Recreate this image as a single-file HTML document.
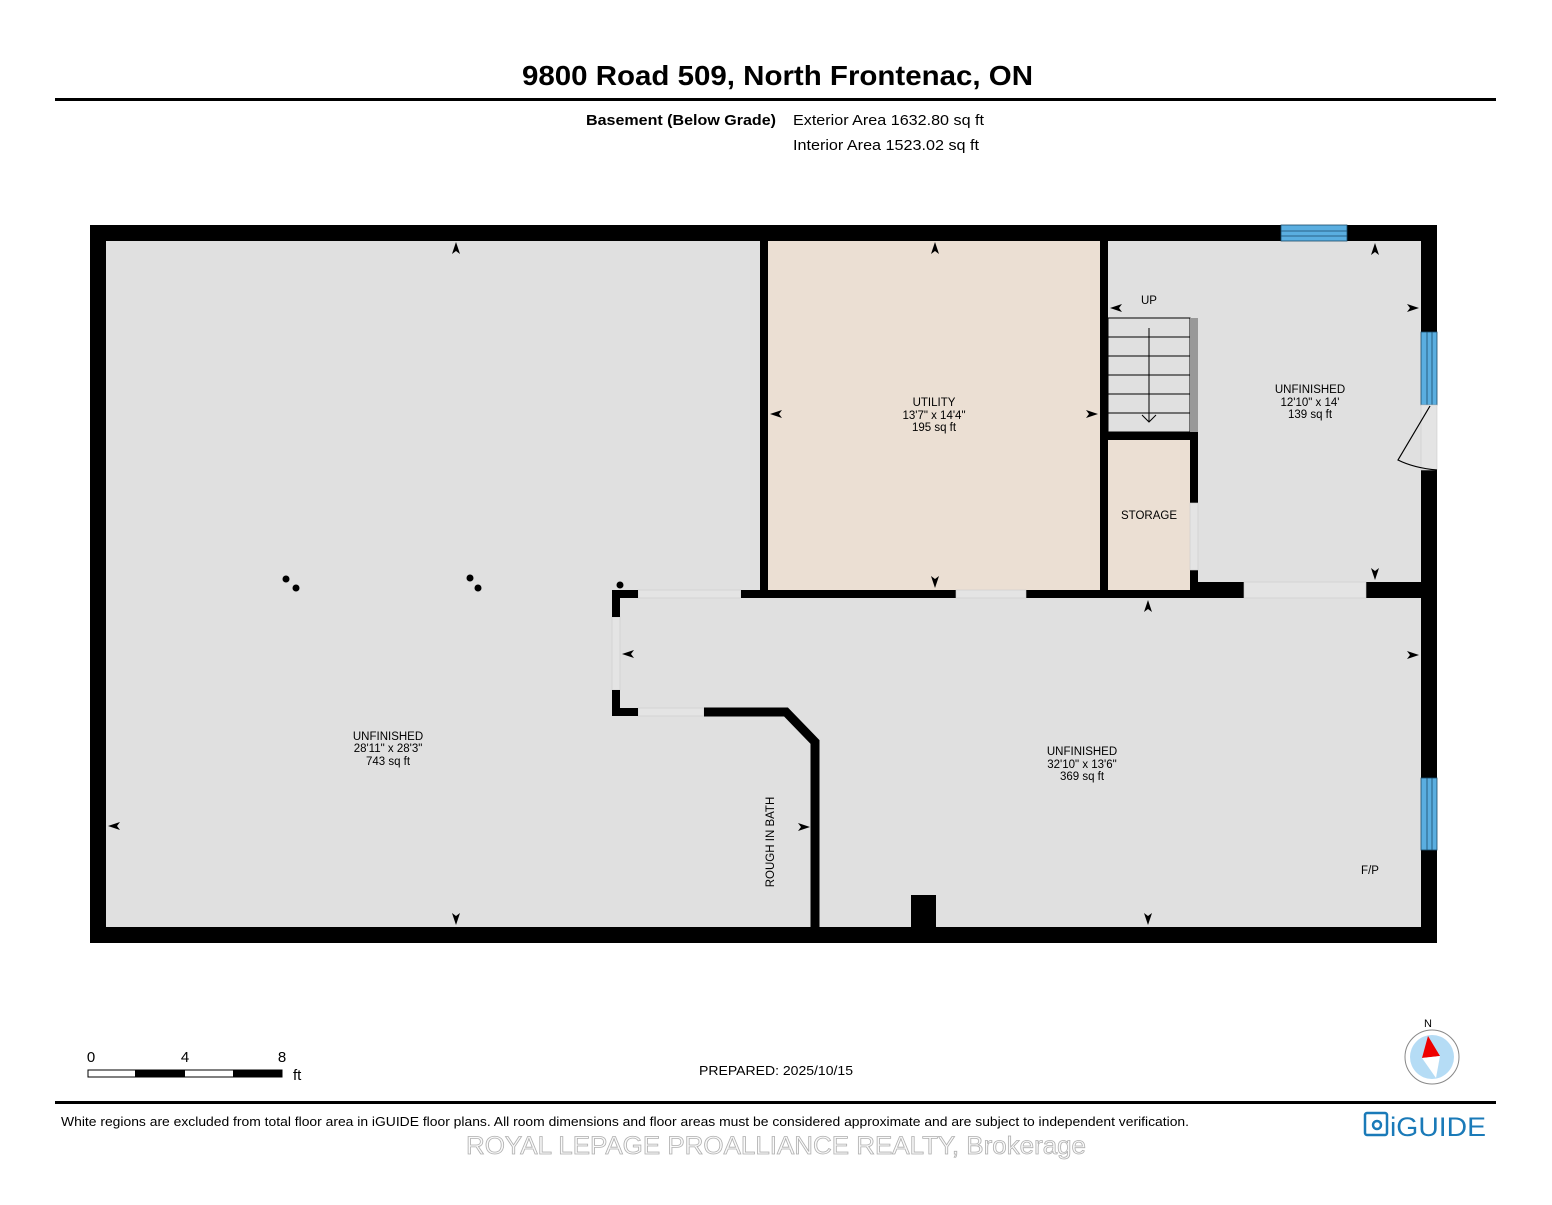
<!DOCTYPE html>
<html><head><meta charset="utf-8"><style>
body{margin:0;background:#fff;width:1552px;height:1200px;overflow:hidden;font-family:"Liberation Sans",Arial,sans-serif}
</style></head><body>
<svg width="1552" height="1200" viewBox="0 0 1552 1200" xmlns="http://www.w3.org/2000/svg" font-family="Liberation Sans, Arial, sans-serif">
<rect width="1552" height="1200" fill="#fff"/>
<text x="522" y="85" font-size="28" font-weight="bold" textLength="511" lengthAdjust="spacingAndGlyphs">9800 Road 509, North Frontenac, ON</text>
<rect x="55" y="98" width="1441" height="3" fill="#000"/>
<text x="586" y="125" font-size="15" font-weight="bold" textLength="190" lengthAdjust="spacingAndGlyphs">Basement (Below Grade)</text>
<text x="793" y="125" font-size="15" textLength="191" lengthAdjust="spacingAndGlyphs">Exterior Area 1632.80 sq ft</text>
<text x="793" y="150" font-size="15" textLength="186" lengthAdjust="spacingAndGlyphs">Interior Area 1523.02 sq ft</text>

<rect x="90" y="225" width="1347" height="718" fill="#000"/>
<rect x="106" y="241" width="1315" height="686" fill="#e0e0e0"/>
<rect x="768" y="241" width="332" height="349" fill="#ebdfd3"/>
<rect x="760" y="241" width="8" height="357" fill="#000"/>
<rect x="1100" y="241" width="8" height="357" fill="#000"/>
<rect x="760" y="590" width="430" height="8" fill="#000"/>
<rect x="956" y="590" width="70" height="8" fill="#e4e4e4" stroke="#ccc" stroke-width="0.6"/>
<rect x="1108" y="440" width="82" height="150" fill="#ebdfd3"/>
<rect x="1108" y="432" width="90" height="8" fill="#000"/>
<rect x="1190" y="440" width="8" height="150" fill="#000"/>
<rect x="1190" y="503" width="8" height="67" fill="#e4e4e4" stroke="#ccc" stroke-width="0.6"/>
<rect x="1190" y="582" width="231" height="16" fill="#000"/>
<rect x="1244" y="582" width="122" height="16" fill="#e4e4e4" stroke="#ccc" stroke-width="0.6"/>
<rect x="1108" y="318" width="82" height="114" fill="#e0e0e0" stroke="#000" stroke-width="1"/>
<g stroke="#000" stroke-width="1"><line x1="1108" y1="337" x2="1190" y2="337"/><line x1="1108" y1="356" x2="1190" y2="356"/><line x1="1108" y1="375" x2="1190" y2="375"/><line x1="1108" y1="394" x2="1190" y2="394"/><line x1="1108" y1="413" x2="1190" y2="413"/>
<line x1="1149" y1="328" x2="1149" y2="422"/><polyline points="1142,415 1149,422 1156,415" fill="none"/></g>
<rect x="1190" y="318" width="8" height="114" fill="#999"/>
<rect x="638" y="590" width="103" height="8" fill="#e4e4e4" stroke="#ccc" stroke-width="0.6"/>
<rect x="612" y="617" width="8" height="73" fill="#e4e4e4" stroke="#ccc" stroke-width="0.6"/>
<rect x="638" y="708" width="66" height="8" fill="#e4e4e4" stroke="#ccc" stroke-width="0.6"/>
<rect x="612" y="590" width="26" height="8" fill="#000"/>
<rect x="741" y="590" width="27" height="8" fill="#000"/>
<rect x="612" y="590" width="8" height="27" fill="#000"/>
<rect x="612" y="690" width="8" height="26" fill="#000"/>
<rect x="612" y="708" width="26" height="8" fill="#000"/>
<path d="M704,712 H786 L815,742 V927" fill="none" stroke="#000" stroke-width="9"/>
<rect x="911" y="895" width="25" height="32" fill="#000"/>
<g fill="#5aaee0" stroke="#1a4a6a" stroke-width="0.8">
<rect x="1281" y="225" width="66" height="16"/><line x1="1281" y1="231" x2="1347" y2="231"/><line x1="1281" y1="236" x2="1347" y2="236"/>
<rect x="1421" y="332" width="16" height="73"/><line x1="1427" y1="332" x2="1427" y2="405"/><line x1="1432" y1="332" x2="1432" y2="405"/>
<rect x="1421" y="778" width="16" height="72"/><line x1="1427" y1="778" x2="1427" y2="850"/><line x1="1432" y1="778" x2="1432" y2="850"/>
</g>
<rect x="1421" y="405" width="16" height="65" fill="#e4e4e4" stroke="#ccc" stroke-width="0.6"/>
<path d="M1430,406 L1398,460 Q1414,468 1437,470" fill="none" stroke="#000" stroke-width="1.2"/>
<g fill="#000"><circle cx="286" cy="579" r="3.5"/><circle cx="296" cy="588" r="3.5"/><circle cx="470" cy="578" r="3.5"/><circle cx="478" cy="588" r="3.5"/><circle cx="620" cy="585" r="3.5"/></g>
<g fill="#000">
<polygon points="456,242 452,254 456,251 460,254"/>
<polygon points="456,925 452,913 456,916 460,913"/>
<polygon points="108,826 120,822 117,826 120,830"/>
<polygon points="810,827 798,823 801,827 798,831"/>
<polygon points="935,242 931,254 935,251 939,254"/>
<polygon points="935,588 931,576 935,579 939,576"/>
<polygon points="770,414 782,410 779,414 782,418"/>
<polygon points="1098,414 1086,410 1089,414 1086,418"/>
<polygon points="1375,243 1371,255 1375,252 1379,255"/>
<polygon points="1375,580 1371,568 1375,571 1379,568"/>
<polygon points="1419,308 1407,304 1410,308 1407,312"/>
<polygon points="1110,308 1122,304 1119,308 1122,312"/>
<polygon points="1148,600 1144,612 1148,609 1152,612"/>
<polygon points="1148,925 1144,913 1148,916 1152,913"/>
<polygon points="622,654 634,650 631,654 634,658"/>
<polygon points="1419,655 1407,651 1410,655 1407,659"/>
</g>
<g font-size="11.5" text-anchor="middle" fill="#000">
<text x="934" y="406">UTILITY</text><text x="934" y="419">13'7" x 14'4"</text><text x="934" y="431">195 sq ft</text>
<text x="1310" y="393">UNFINISHED</text><text x="1310" y="406">12'10" x 14'</text><text x="1310" y="418">139 sq ft</text>
<text x="1149" y="304">UP</text>
<text x="1149" y="519">STORAGE</text>
<text x="388" y="740">UNFINISHED</text><text x="388" y="752">28'11" x 28'3"</text><text x="388" y="765">743 sq ft</text>
<text x="1082" y="755">UNFINISHED</text><text x="1082" y="768">32'10" x 13'6"</text><text x="1082" y="780">369 sq ft</text>
<text x="1370" y="874">F/P</text>
<text transform="translate(774,842) rotate(-90)">ROUGH IN BATH</text>
</g>
<g font-size="15"><text x="91" y="1062" text-anchor="middle">0</text><text x="185" y="1062" text-anchor="middle">4</text><text x="282" y="1062" text-anchor="middle">8</text><text x="293" y="1080">ft</text></g>
<rect x="88" y="1070" width="194" height="7" fill="#fff" stroke="#000" stroke-width="1"/>
<rect x="135" y="1070" width="50" height="7" fill="#000"/><rect x="233" y="1070" width="49" height="7" fill="#000"/>
<text x="699" y="1075" font-size="13" textLength="154" lengthAdjust="spacingAndGlyphs">PREPARED: 2025/10/15</text>
<text x="1428" y="1027" text-anchor="middle" font-size="11">N</text>
<circle cx="1432" cy="1057" r="27" fill="#fff" stroke="#888" stroke-width="1"/>
<circle cx="1432" cy="1057" r="22" fill="#b5dcf5"/>
<polygon points="1428,1036 1422,1058 1440,1056" fill="#e00"/>
<polygon points="1422,1058 1440,1056 1436,1078" fill="#fff"/>
<rect x="55" y="1101" width="1441" height="3" fill="#000"/>
<text x="61" y="1126" font-size="13" textLength="1128" lengthAdjust="spacingAndGlyphs">White regions are excluded from total floor area in iGUIDE floor plans. All room dimensions and floor areas must be considered approximate and are subject to independent verification.</text>
<g fill="none" stroke="#1a7ab8" stroke-width="2.5"><rect x="1365" y="1113" width="22" height="22" rx="2"/><circle cx="1377" cy="1125" r="4"/></g>
<text x="1390" y="1136" font-size="27" fill="#1a7ab8" textLength="96" lengthAdjust="spacingAndGlyphs">iGUIDE</text>
<text x="466" y="1154" font-size="25" fill="#fafafa" stroke="#b0b0b0" stroke-width="0.8" textLength="620" lengthAdjust="spacingAndGlyphs">ROYAL LEPAGE PROALLIANCE REALTY, Brokerage</text>
</svg>
</body></html>
